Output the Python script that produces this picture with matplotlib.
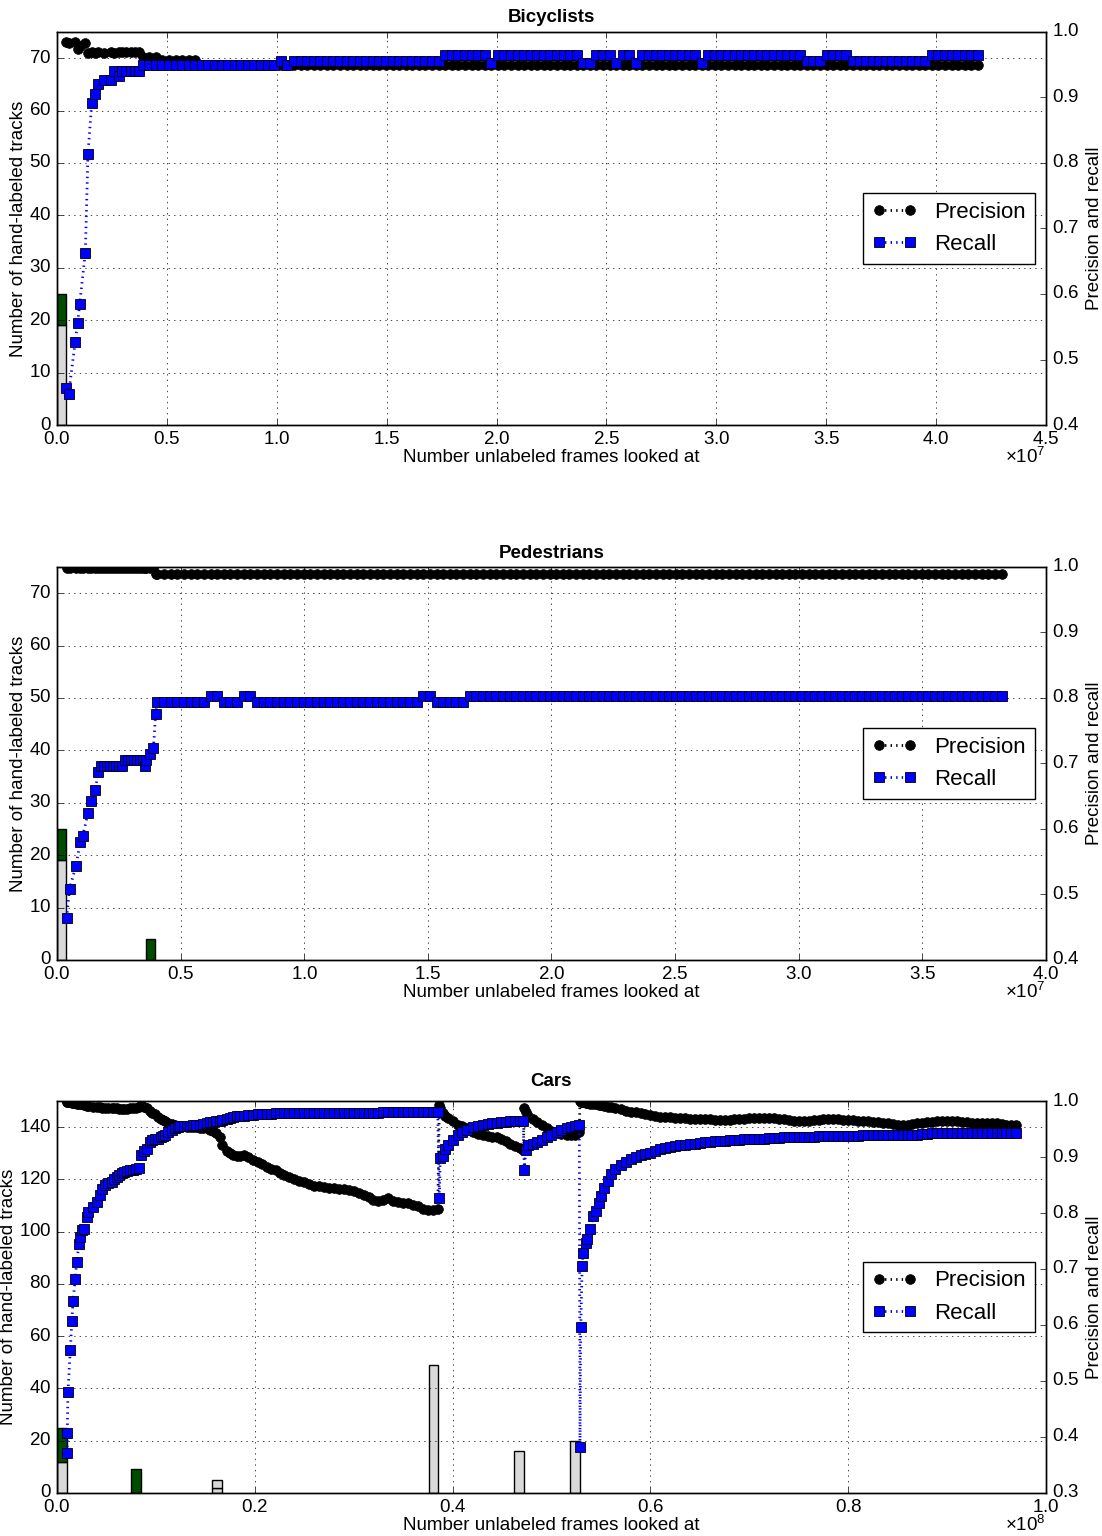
import numpy as np
import matplotlib
matplotlib.use('Agg')
import matplotlib.pyplot as plt

plt.style.use('classic')
plt.rcParams.update({
    'font.family': ['Liberation Sans', 'DejaVu Sans'],
    'font.size': 13.5,
    'figure.facecolor': 'white',
    'savefig.facecolor': 'white',
    'axes.formatter.use_mathtext': True,
    'mathtext.fontset': 'custom',
    'mathtext.rm': 'Liberation Sans',
    'mathtext.it': 'Liberation Sans:italic',
    'mathtext.bf': 'Liberation Sans:bold',
    'legend.fontsize': 16,
})


def runs(pairs):
    # expand (value, count) runs of a step-like series
    return [v for v, n in pairs for _ in range(n)]


# ---------------- Bicyclists (x in millions of frames) ----------------
bic_bar_left = [0.0]
bic_neg = [19]
bic_neg2 = [0]
bic_pos = [6]
bic_bar_width = 0.42

bic_x_early = [0.42, 0.53, 0.83, 0.94, 1.03, 1.29, 1.41, 1.58, 1.71, 1.85,
               2.14, 2.47, 2.59, 2.80, 2.95, 3.15, 3.35, 3.55, 3.75]
bic_prec_early = [0.984, 0.983, 0.985, 0.974, 0.978, 0.983, 0.968, 0.969, 0.968, 0.969,
                  0.968, 0.969, 0.968, 0.969, 0.969, 0.969, 0.970, 0.970, 0.970]
bic_rec_early = [0.456, 0.448, 0.527, 0.556, 0.584, 0.663, 0.813, 0.891, 0.905, 0.920,
                 0.927, 0.926, 0.941, 0.933, 0.941, 0.941, 0.941, 0.941, 0.941]
bic_dense_span = (3.9, 41.9, 128)
bic_prec_dense = runs([(0.962, 3), (0.957, 6), (0.950, 119)])
bic_rec_dense = runs([(0.949, 21), (0.955, 1), (0.949, 1), (0.955, 23), (0.965, 7),
                      (0.952, 1), (0.965, 13), (0.952, 2), (0.965, 3), (0.952, 1),
                      (0.965, 2), (0.952, 1), (0.965, 9), (0.952, 1), (0.965, 15),
                      (0.956, 3), (0.965, 4), (0.956, 12), (0.965, 8)])

# ---------------- Pedestrians ----------------
ped_bar_left = [0.0, 3.59]
ped_neg = [19, 0]
ped_neg2 = [0, 0]
ped_pos = [6, 4]
ped_bar_width = 0.38

ped_x_early = [0.39, 0.51, 0.77, 0.94, 1.04, 1.26, 1.38, 1.55, 1.67, 1.78,
               1.90, 2.02, 2.14, 2.26, 2.38, 2.50, 2.62, 2.75, 2.88, 3.00,
               3.12, 3.24, 3.36, 3.48, 3.55, 3.62, 3.77, 3.90, 3.99]
ped_prec_early = [0.998, 0.998, 0.998, 0.998, 0.998, 0.998, 0.998, 0.998, 0.998, 0.998,
                  0.998, 0.998, 0.998, 0.998, 0.998, 0.998, 0.998, 0.998, 0.998, 0.998,
                  0.998, 0.998, 0.998, 0.998, 0.998, 0.998, 0.998, 0.998, 0.989]
ped_rec_early = [0.464, 0.509, 0.544, 0.580, 0.589, 0.625, 0.642, 0.660, 0.687, 0.696,
                 0.696, 0.696, 0.696, 0.696, 0.696, 0.696, 0.696, 0.705, 0.705, 0.705,
                 0.705, 0.705, 0.705, 0.705, 0.696, 0.705, 0.714, 0.723, 0.776]
ped_dense_span = (4.06, 38.2, 128)
ped_prec_dense = runs([(0.989, 128)])
ped_rec_dense = runs([(0.794, 8), (0.803, 2), (0.794, 3), (0.803, 2), (0.794, 25),
                      (0.803, 2), (0.794, 5), (0.803, 81)])

# ---------------- Cars ----------------
car_bar_left = [0.0, 7.51, 15.7, 37.6, 46.2, 51.9]
car_neg = [12, 0, 2, 49, 16, 20]
car_neg2 = [0, 0, 3, 0, 0, 0]
car_pos = [13, 9, 0, 0, 0, 0]
car_bar_width = 0.97

car_x_a = [1.02, 1.04, 1.11, 1.34, 1.50, 1.62, 1.85, 1.99, 2.22, 2.33,
           2.49, 2.76, 3.07, 3.17, 3.67, 4.01, 4.35, 4.52, 4.85, 5.20,
           5.53, 5.80, 6.03, 6.30, 6.54, 6.80, 7.11, 7.40, 7.72, 8.00,
           8.29, 8.49, 8.80, 9.07, 9.40, 9.65, 9.91, 10.20, 10.48, 10.70,
           10.92, 11.26, 11.59, 11.93, 12.20, 12.44, 12.80, 13.11, 13.45, 13.78,
           14.10, 14.46, 14.80, 15.13, 15.50, 15.81, 16.10, 16.48, 16.70, 17.16,
           17.50, 17.83, 18.20, 18.50, 18.90, 19.30, 19.85, 20.30, 20.70, 21.20,
           21.60, 22.10, 22.55, 23.00, 23.50]
car_rec_a = [0.372, 0.408, 0.480, 0.555, 0.608, 0.643, 0.682, 0.712, 0.744, 0.758,
             0.770, 0.772, 0.793, 0.802, 0.811, 0.820, 0.832, 0.842, 0.850, 0.853,
             0.856, 0.860, 0.865, 0.868, 0.871, 0.873, 0.875, 0.876, 0.877, 0.878,
             0.880, 0.904, 0.911, 0.915, 0.927, 0.930, 0.932, 0.933, 0.935, 0.937,
             0.939, 0.944, 0.948, 0.952, 0.954, 0.955, 0.955, 0.955, 0.956, 0.957,
             0.957, 0.958, 0.959, 0.960, 0.962, 0.963, 0.964, 0.964, 0.966, 0.968,
             0.970, 0.972, 0.973, 0.974, 0.974, 0.975, 0.975, 0.976, 0.977, 0.977,
             0.977, 0.978, 0.978, 0.978, 0.978]
car_prec_a = [0.999, 0.999, 0.998, 0.998, 0.997, 0.996, 0.996, 0.995, 0.995, 0.994,
              0.994, 0.993, 0.991, 0.991, 0.990, 0.989, 0.989, 0.988, 0.988, 0.988,
              0.987, 0.987, 0.987, 0.986, 0.986, 0.986, 0.986, 0.987, 0.987, 0.987,
              0.990, 0.993, 0.990, 0.987, 0.983, 0.979, 0.976, 0.972, 0.968, 0.966,
              0.964, 0.961, 0.959, 0.957, 0.956, 0.955, 0.955, 0.954, 0.954, 0.953,
              0.953, 0.952, 0.952, 0.951, 0.948, 0.946, 0.942, 0.935, 0.922, 0.910,
              0.907, 0.903, 0.901, 0.902, 0.904, 0.900, 0.895, 0.891, 0.887, 0.882,
              0.879, 0.876, 0.872, 0.868, 0.864]

car_span_b = (24.0, 38.5, 30)
car_prec_b = [0.860, 0.857, 0.855, 0.851, 0.849, 0.848, 0.847, 0.845, 0.844, 0.843,
              0.842, 0.841, 0.840, 0.836, 0.832, 0.828, 0.823, 0.821, 0.824, 0.826,
              0.822, 0.820, 0.818, 0.817, 0.815, 0.813, 0.808, 0.805, 0.806, 0.808]
car_rec_b = runs([(0.978, 8), (0.979, 10), (0.980, 12)])

car_x_c = [38.66, 38.75, 39.06, 39.23, 39.57, 40.07, 40.58, 41.00, 41.50, 42.10,
           42.60, 43.11, 43.60, 44.00, 44.46, 44.90, 45.40, 45.80, 46.30, 46.81,
           47.15,
           47.25, 47.40, 47.66, 48.10, 48.50, 49.00, 49.51, 50.00, 50.52, 51.00,
           51.53, 52.00, 52.40, 52.81,
           52.88, 52.96, 53.10, 53.20, 53.45, 53.60, 53.93, 54.21, 54.46, 54.80,
           54.99, 55.35, 55.70, 56.06, 56.42]
car_rec_c = [0.826, 0.899, 0.902, 0.915, 0.921, 0.930, 0.940, 0.944, 0.948, 0.954,
             0.956, 0.958, 0.959, 0.960, 0.961, 0.962, 0.963, 0.964, 0.965, 0.965,
             0.964,
             0.877, 0.912, 0.921, 0.924, 0.927, 0.931, 0.935, 0.939, 0.944, 0.948,
             0.951, 0.953, 0.955, 0.957,
             0.383, 0.597, 0.705, 0.729, 0.747, 0.753, 0.771, 0.795, 0.803, 0.818,
             0.830, 0.845, 0.857, 0.869, 0.878]
car_prec_c = [0.993, 0.988, 0.978, 0.974, 0.970, 0.965, 0.958, 0.955, 0.952, 0.945,
              0.941, 0.939, 0.937, 0.936, 0.935, 0.932, 0.928, 0.924, 0.920, 0.916,
              0.912,
              0.988, 0.980, 0.974, 0.968, 0.963, 0.957, 0.951, 0.946, 0.942, 0.941,
              0.940, 0.939, 0.939, 0.945,
              1.000, 0.999, 0.998, 0.998, 0.997, 0.996, 0.995, 0.994, 0.994, 0.993,
              0.992, 0.991, 0.990, 0.989, 0.988]

car_span_d = (57.0, 97.0, 81)
car_rec_d = [0.886, 0.891, 0.897, 0.900, 0.903, 0.906, 0.908, 0.911, 0.914, 0.916,
             0.918, 0.920, 0.921, 0.922, 0.923, 0.924, 0.925, 0.926, 0.927, 0.928,
             0.928, 0.929, 0.930, 0.931, 0.931, 0.932, 0.932, 0.933, 0.933, 0.933,
             0.934, 0.934, 0.934, 0.935, 0.935, 0.936, 0.936, 0.936, 0.936, 0.936,
             0.937, 0.937, 0.937, 0.937, 0.937, 0.937, 0.937, 0.938, 0.938, 0.939,
             0.939, 0.939, 0.939, 0.939, 0.939, 0.940, 0.940, 0.940, 0.940, 0.940,
             0.940, 0.941, 0.941, 0.942, 0.942, 0.942, 0.942, 0.942, 0.942, 0.942,
             0.942, 0.942, 0.942, 0.942, 0.942, 0.942, 0.942, 0.942, 0.942, 0.942,
             0.942]
car_prec_d = [0.985, 0.983, 0.981, 0.980, 0.978, 0.976, 0.975, 0.973, 0.972, 0.971,
              0.971, 0.970, 0.969, 0.969, 0.968, 0.968, 0.967, 0.967, 0.967, 0.966,
              0.966, 0.966, 0.966, 0.967, 0.967, 0.968, 0.969, 0.969, 0.970, 0.970,
              0.969, 0.969, 0.968, 0.967, 0.966, 0.965, 0.964, 0.965, 0.965, 0.966,
              0.966, 0.967, 0.967, 0.967, 0.967, 0.966, 0.966, 0.966, 0.965, 0.965,
              0.964, 0.963, 0.962, 0.961, 0.960, 0.959, 0.958, 0.957, 0.958, 0.959,
              0.960, 0.961, 0.962, 0.963, 0.964, 0.964, 0.964, 0.964, 0.964, 0.963,
              0.962, 0.961, 0.961, 0.961, 0.961, 0.961, 0.960, 0.959, 0.958, 0.958,
              0.958]

GRAY = '#d9d9d9'
GREEN = '#004d00'


def draw(rect, title, title_pad, left, neg, neg2, pos, width, x, prec, rec,
         xmax, ymax, rmin):
    ax = fig.add_axes(rect)
    left = np.asarray(left, float) * 1e6
    bottom = np.zeros(len(left))
    for h, c in [(neg, GRAY), (neg2, GRAY), (pos, GREEN)]:
        h = np.asarray(h, float)
        m = h > 0
        ax.bar(left[m], h[m], width * 1e6, bottom=bottom[m], align='edge',
               color=c, edgecolor='k', linewidth=1)
        bottom += h
    ax.set_xlim(0, xmax)
    ax.set_ylim(0, ymax)
    ax.grid(True)
    ax.ticklabel_format(axis='x', style='sci', scilimits=(0, 0))
    ax.set_ylabel('Number of hand-labeled tracks', labelpad=1.5)
    ax.set_xlabel('Number unlabeled frames looked at', labelpad=1)
    ax.set_title(title, fontweight='bold', fontsize=13.5, pad=title_pad)

    ax2 = ax.twinx()
    x = np.asarray(x) * 1e6
    ax2.plot(x, prec, 'k:', marker='o', ms=7, mec='k', lw=2, label='Precision')
    ax2.plot(x, rec, 'b:', marker='s', ms=7, mfc='b', mec='k', mew=0.6, lw=2,
             label='Recall')
    ax2.set_xlim(0, xmax)
    ax2.set_ylim(rmin, 1.0)
    ax2.set_ylabel('Precision and recall')
    ax2.legend(loc='center right')
    return ax


fig = plt.figure(figsize=(11.02, 15.36), dpi=100)

bic_x = np.concatenate([bic_x_early, np.linspace(*bic_dense_span)])
ax_b = draw([0.0517, 0.7233, 0.8975, 0.2559], 'Bicyclists', 7,
            bic_bar_left, bic_neg, bic_neg2, bic_pos, bic_bar_width,
            bic_x, bic_prec_early + bic_prec_dense, bic_rec_early + bic_rec_dense,
            4.5e7, 75, 0.4)

ped_x = np.concatenate([ped_x_early, np.linspace(*ped_dense_span)])
ax_p = draw([0.0517, 0.375, 0.8975, 0.2559], 'Pedestrians', 6.5,
            ped_bar_left, ped_neg, ped_neg2, ped_pos, ped_bar_width,
            ped_x, ped_prec_early + ped_prec_dense, ped_rec_early + ped_rec_dense,
            4.0e7, 75, 0.4)

car_x = np.concatenate([car_x_a, np.linspace(*car_span_b), car_x_c, np.linspace(*car_span_d)])
ax_c = draw([0.0517, 0.028, 0.8975, 0.2552], 'Cars', 10.5,
            car_bar_left, car_neg, car_neg2, car_pos, car_bar_width,
            car_x, car_prec_a + car_prec_b + car_prec_c + car_prec_d,
            car_rec_a + car_rec_b + car_rec_c + car_rec_d,
            1.0e8, 150, 0.3)

# put the x10^n multiplier a little closer to the tick labels, as in the original
fig.canvas.draw()
for ax in (ax_b, ax_p, ax_c):
    off = ax.xaxis.get_offset_text()
    label = off.get_text()
    off.set_visible(False)
    ax.annotate(label, xy=(1.0, 0.0), xycoords='axes fraction',
                xytext=(0, -15.5), textcoords='offset points',
                ha='right', va='top', fontsize=13.5)

fig.savefig('out.png', dpi=100)
